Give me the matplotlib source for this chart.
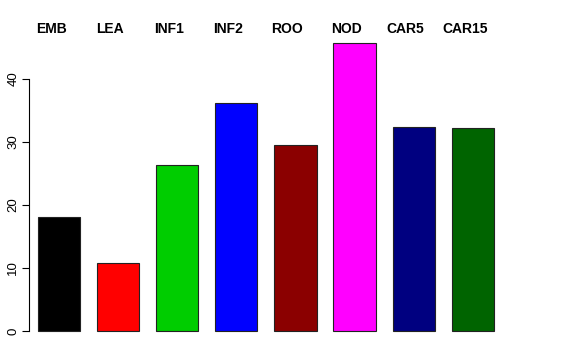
import matplotlib
matplotlib.use("Agg")
import matplotlib.pyplot as plt
from matplotlib.transforms import blended_transform_factory

# tissue samples and values
tissues = ["EMB", "LEA", "INF1", "INF2", "ROO", "NOD", "CAR5", "CAR15"]
values = [18.1, 10.8, 26.3, 36.2, 29.5, 45.7, 32.4, 32.1]
colors = ["#000000", "#FF0000", "#00CD00", "#0000FF",
          "#8B0000", "#FF00FF", "#000080", "#006400"]

plt.rcParams["font.family"] = ["Liberation Sans", "DejaVu Sans"]

fig = plt.figure(figsize=(5.76, 3.6), dpi=100)
ax = fig.add_axes([29 / 576, 14.5 / 360, (512 - 29) / 576, (345.5 - 31) / 360])

# R-style barplot: width 1, space 0.4
pos = [0.9 + 1.4 * i for i in range(len(values))]
ax.bar(pos, values, width=1.0, color=colors, edgecolor="#222222", linewidth=0.8)

ax.set_xlim(0.187, 11.63)
ax.set_ylim(-2.3, 47.55)

for s in ["top", "right", "bottom"]:
    ax.spines[s].set_visible(False)
ax.spines["left"].set_bounds(0, 40)
ax.spines["left"].set_linewidth(0.8)
ax.set_xticks([])
ax.set_yticks([0, 10, 20, 30, 40])
ax.tick_params(axis="y", length=5, width=0.8, pad=2, labelsize=9.5)
for lab in ax.get_yticklabels():
    lab.set_rotation(90)
    lab.set_va("center")

# labels above the plot, slightly left of bar centres
trans = blended_transform_factory(ax.transData, fig.transFigure)
for p, t in zip(pos, tissues):
    ax.text(p - 0.19, 1 - 29 / 360, t, transform=trans,
            ha="center", va="center", fontsize=10, fontweight="bold")

fig.savefig("out.png", dpi=100)
